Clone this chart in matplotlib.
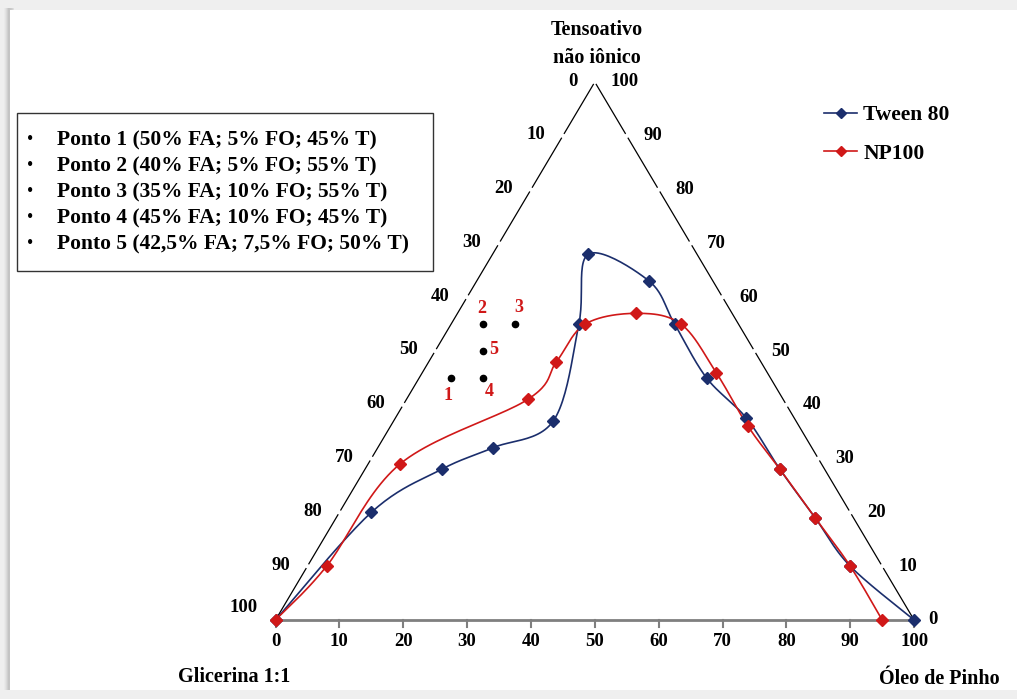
import numpy as np
import matplotlib
matplotlib.use("Agg")
import matplotlib.pyplot as plt
from matplotlib.patches import Rectangle
from matplotlib.lines import Line2D

# ---- data (ternary compositions, %) ----
# Tween 80 boundary: oil (Óleo de Pinho) and surfactant (Tensoativo) content
tween_oil = [0, 5, 12, 18, 25, 20, 15, 27, 35, 45, 55, 65, 75, 85, 100]
tween_surf = [0, 20, 28, 32, 37, 55, 68, 63, 55, 45, 37.5, 28, 19, 10, 0]

# NP100 boundary
np_oil = [0, 3, 5, 19, 20, 21, 28, 36, 46, 56, 65, 75, 85, 95]
np_surf = [0, 10, 29, 41, 48, 55, 57, 55, 46, 36, 28, 19, 10, 0]

# Selected formulation points: aqueous phase, oil phase, surfactant
point_ids = ["1", "2", "3", "4", "5"]
point_fa = [50, 40, 35, 45, 42.5]
point_fo = [5, 5, 10, 10, 7.5]
point_t = [45, 55, 55, 45, 50]

tick_values = list(range(0, 101, 10))

BLUE = "#1b2e6c"
RED = "#d01818"
FONT = "Liberation Serif"
TICK_FS = 13.5

# pixel scale of one composition unit on each axis
SX, SY = 6.386, 5.38
X0, Y0 = 275.5, 620.0
W, H = 1017, 699


def to_xy(oil, surf):
    oil = np.asarray(oil, float)
    surf = np.asarray(surf, float)
    return oil + surf / 2.0, surf


def smooth(x, y, n=24):
    """Catmull-Rom spline through the points (computed in screen proportions)."""
    p = np.column_stack([np.asarray(x) * SX, np.asarray(y) * SY])
    p = np.vstack([p[0], p, p[-1]])
    out = []
    t = np.linspace(0, 1, n, endpoint=False)[:, None]
    for i in range(1, len(p) - 2):
        p0, p1, p2, p3 = p[i - 1], p[i], p[i + 1], p[i + 2]
        c1 = p1 + (p2 - p0) / 6.0
        c2 = p2 - (p3 - p1) / 6.0
        seg = ((1 - t) ** 3) * p1 + 3 * ((1 - t) ** 2) * t * c1 + 3 * (1 - t) * t ** 2 * c2 + t ** 3 * p2
        out.append(seg)
    out.append(p[-2][None, :])
    out = np.vstack(out)
    return out[:, 0] / SX, out[:, 1] / SY


fig = plt.figure(figsize=(W / 100, H / 100), dpi=100)
fig.patch.set_facecolor("#efefef")

# page panel behind the chart
bg = fig.add_axes([0, 0, 1, 1])
bg.set_xlim(0, W)
bg.set_ylim(H, 0)
bg.axis("off")
for i, a in enumerate([0.05, 0.08, 0.12, 0.16, 0.2]):
    bg.add_patch(Rectangle((4 + i, 8), 6, 682, color="#9a9a9a", alpha=a, lw=0))
bg.add_patch(Rectangle((10, 10), W - 10, 680, color="white", lw=0))

ax = fig.add_axes([0, 0, 1, 1])
ax.patch.set_alpha(0)
ax.set_xlim(-X0 / SX, (W - X0) / SX)
ax.set_ylim(-(H - Y0) / SY, Y0 / SY)
ax.axis("off")

# triangle edges (left & right thin black with small breaks at ticks)
for k in range(10):
    lo, hi = k * 10 + 0.35, (k + 1) * 10 - 0.35
    xs, ys = to_xy([0, 0], [lo, hi])
    ax.plot(xs, ys, color="black", lw=0.9, solid_capstyle="butt")
    xs, ys = to_xy([100 - lo, 100 - hi], [lo, hi])
    ax.plot(xs, ys, color="black", lw=0.9, solid_capstyle="butt")
# bottom axis (grey) with ticks
ax.plot([0, 100], [0, 0], color="#7f7f7f", lw=2.0, solid_capstyle="butt")
for v in tick_values:
    ax.plot([v, v], [0, -7 / SY], color="#7f7f7f", lw=1.5)
    ax.annotate(str(v), (v, 0), xytext=(0, -22), textcoords="offset pixels",
                ha="center", va="center", fontsize=TICK_FS, fontweight="bold", family=FONT)

# left edge labels (100 - surfactant) and right edge labels (surfactant)
for v in tick_values:
    xl, yl = to_xy(0, v)
    off_l = (-27, 1) if v else (-32, 12)
    if v == 100:
        off_l = (-22, 0)
    ax.annotate(str(100 - v), (xl, yl), xytext=off_l, textcoords="offset pixels",
                ha="center", va="center", fontsize=TICK_FS, fontweight="bold", family=FONT)
    xr, yr = to_xy(100 - v, v)
    off_r = (26, 0) if v < 100 else (30, 0)
    if v == 0:
        off_r = (19, 0)
    ax.annotate(str(v), (xr, yr), xytext=off_r,
                textcoords="offset pixels", ha="center", va="center",
                fontsize=TICK_FS, fontweight="bold", family=FONT)

# vertex titles
ax.annotate("Tensoativo", (50, 100), xytext=(2, 52), textcoords="offset pixels",
            ha="center", va="center", fontsize=14.5, fontweight="bold", family=FONT)
ax.annotate("não iônico", (50, 100), xytext=(2, 24), textcoords="offset pixels",
            ha="center", va="center", fontsize=14.5, fontweight="bold", family=FONT)
bg.text(178, 677, "Glicerina 1:1", ha="left", va="center", fontsize=14.5,
        fontweight="bold", family=FONT)
bg.text(1000, 679, "Óleo de Pinho", ha="right", va="center", fontsize=14.5,
        fontweight="bold", family=FONT)

# boundary curves
for oil, surf, col, lab in [(tween_oil, tween_surf, BLUE, "Tween 80"),
                            (np_oil, np_surf, RED, "NP100")]:
    x, y = to_xy(oil, surf)
    sx, sy = smooth(x, y)
    ax.plot(sx, sy, color=col, lw=1.2, zorder=3)
    ax.plot(x, y, ls="none", marker="D", ms=6.5, color=col, zorder=4)

# formulation points
px, py = to_xy(point_fo, point_t)
ax.plot(px, py, ls="none", marker="o", ms=4.5, color="black", zorder=5)
label_off = {"1": (-3, -18), "2": (-1, 16), "3": (4, 17), "4": (6, -14), "5": (11, 2)}
for pid, x, y in zip(point_ids, px, py):
    ax.annotate(pid, (x, y), xytext=label_off[pid], textcoords="offset pixels",
                ha="center", va="center", color=RED, fontsize=13,
                fontweight="bold", family=FONT)

# series legend
handles = [Line2D([], [], color=BLUE, lw=1.2, marker="D", ms=5),
           Line2D([], [], color=RED, lw=1.2, marker="D", ms=5)]
leg = ax.legend(handles, ["Tween 80", "NP100"], loc="upper left",
                bbox_to_anchor=(805 / W, 1 - 86 / H), frameon=False,
                prop={"family": FONT, "weight": "bold", "size": 15.5},
                handlelength=1.5, handletextpad=0.3, labelspacing=0.85)

# formulation list box
bg.add_patch(Rectangle((17, 113), 416, 158, fill=False, ec="#333333", lw=1.0))


def fmt(v):
    s = f"{v:g}"
    return s.replace(".", ",")


for i, (pid, fa, fo, t) in enumerate(zip(point_ids, point_fa, point_fo, point_t)):
    yy = 140 + i * 26
    bg.text(30, yy, "•", ha="center", va="center", fontsize=13, family=FONT)
    bg.text(57, yy, f"Ponto {pid} ({fmt(fa)}% FA; {fmt(fo)}% FO; {fmt(t)}% T)",
            ha="left", va="center", fontsize=15.5, fontweight="bold", family=FONT)

fig.savefig("out.png", dpi=100, facecolor=fig.get_facecolor())
